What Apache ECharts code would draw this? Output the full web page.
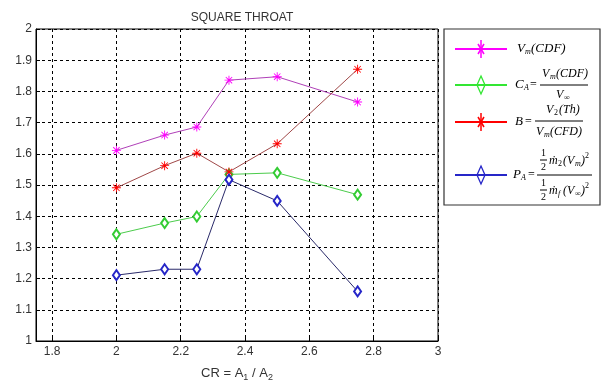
<!DOCTYPE html>
<html>
<head>
<meta charset="utf-8">
<script src="https://cdn.jsdelivr.net/npm/echarts@6/dist/echarts.min.js"></script>
<style>
  html, body { margin: 0; padding: 0; background: #fff; }
  #main { width: 603px; height: 387px; }
</style>
</head>
<body>
<div id="main"></div>
<script>
// data
var cr = [2, 2.15, 2.25, 2.35, 2.5, 2.75];
var vmCdf = [1.611, 1.660, 1.686, 1.836, 1.847, 1.766];
var caRatio = [1.342, 1.378, 1.399, 1.534, 1.539, 1.469];
var bRatio = [1.491, 1.562, 1.602, 1.542, 1.632, 1.871];
var paRatio = [1.211, 1.230, 1.230, 1.517, 1.449, 1.159];
var xTicks = [1.8, 2, 2.2, 2.4, 2.6, 2.8, 3];

var star = 'path://M9 0h2v20h-2z M0 9h20v2h-20z M2.2 3.6L3.6 2.2L17.8 16.4L16.4 17.8z M16.4 2.2L17.8 3.6L3.6 17.8L2.2 16.4z';
var serif = '"Liberation Serif", "DejaVu Serif", serif';
var sans = '"Liberation Sans", Arial, sans-serif';

function pairs(ys) {
  return cr.map(function (x, i) { return [x, ys[i]]; });
}

function mkSeries(name, ys, lineColor, markColor, symbol, size) {
  return {
    name: name,
    type: 'line',
    data: pairs(ys),
    symbol: symbol,
    symbolSize: size,
    lineStyle: { color: lineColor, width: 1 },
    itemStyle: { color: markColor, borderWidth: 1 },
    emphasis: { disabled: true },
    animation: false
  };
}

// little helpers for the legend formulas
function t(x, y, s, size, italic) {
  return {
    type: 'text', x: x, y: y, silent: true,
    style: {
      text: s, fill: '#000', fontSize: size,
      fontFamily: serif, fontStyle: italic === false ? 'normal' : 'italic',
      textAlign: 'left', textVerticalAlign: 'middle'
    }
  };
}
function seg(x1, y1, x2, y2, color, w) {
  return { type: 'line', silent: true, shape: { x1: x1, y1: y1, x2: x2, y2: y2 }, style: { stroke: color, lineWidth: w } };
}
function bar(x1, x2, y) {
  return seg(x1, y, x2, y, '#000', 1);
}
function key(y, color, isStar) {
  var cx = 481;
  var els = [seg(455, y, 507, y, color, 2)];
  if (isStar) {
    els.push(seg(cx, y - 9, cx, y + 9, color, 1.5));
    els.push(seg(cx - 4, y, cx + 4, y, color, 1.5));
    els.push(seg(cx - 3, y - 5, cx + 3, y + 5, color, 1.5));
    els.push(seg(cx - 3, y + 5, cx + 3, y - 5, color, 1.5));
  } else {
    els.push({ type: 'polygon', silent: true,
      shape: { points: [[cx, y - 9], [cx + 4, y], [cx, y + 9], [cx - 4, y]] },
      style: { fill: 'none', stroke: color, lineWidth: 1.3 } });
  }
  return els;
}

var legendEls = [
  { type: 'rect', silent: true, shape: { x: 444, y: 29, width: 156, height: 176 }, style: { fill: '#fff', stroke: '#333', lineWidth: 1.2 } }
];
legendEls = legendEls
  .concat(key(49, '#ff00ff', true))
  .concat(key(85, '#33e633', false))
  .concat(key(122, '#ff0000', true))
  .concat(key(175, '#2626c8', false))
  .concat([
    // V_m(CDF)
    t(517, 49, 'V', 13), t(525, 52, 'm', 8), t(531, 49, '(CDF)', 13),
    // C_A = V_m(CDF) / V_inf
    t(515, 85, 'C', 13), t(524, 88, 'A', 8), t(530, 85, '=', 12, false),
    t(542, 74, 'V', 12), t(550, 77, 'm', 8), t(556, 74, '(CDF)', 12),
    bar(540, 588, 85),
    t(556, 95, 'V', 12), t(564, 98, '\u221e', 8, false),
    // B = V_2(Th) / V_m(CFD)
    t(515, 122, 'B', 13), t(525, 122, '=', 12, false),
    t(546, 110, 'V', 12), t(554, 113, '2', 8, false), t(559, 110, '(Th)', 12),
    bar(535, 583, 121),
    t(536, 132, 'V', 12), t(544, 135, 'm', 8), t(550, 132, '(CFD)', 12),
    // P_A = (1/2 m2 (Vm)^2) / (1/2 mf (Vinf)^2)
    t(513, 175, 'P', 13), t(521, 178, 'A', 8), t(528, 175, '=', 12, false),
    t(541, 153, '1', 10, false), bar(540, 547, 160), t(541, 167, '2', 10, false),
    t(549, 161, '\u1e41', 12), t(558, 164, '2', 8, false), t(563, 161, '(V', 12), t(575, 164, 'm', 8), t(581, 161, ')', 12), t(585, 156, '2', 8, false),
    bar(537, 592, 175),
    t(541, 183, '1', 10, false), bar(540, 547, 190), t(541, 197, '2', 10, false),
    t(549, 191, '\u1e41', 12), t(558, 194, 'f', 8), t(563, 191, '(V', 12), t(575, 194, '\u221e', 8, false), t(581, 191, ')', 12), t(585, 186, '2', 8, false)
  ]);

var chart = echarts.init(document.getElementById('main'), null, { renderer: 'canvas' });
chart.setOption({
  backgroundColor: '#fff',
  animation: false,
  title: {
    text: 'SQUARE THROAT',
    left: 237, top: 7, textAlign: 'center',
    textStyle: { fontFamily: sans, fontSize: 12, fontWeight: 'normal', color: '#333' }
  },
  grid: {
    left: 36, right: 165, top: 29, bottom: 40,
    show: true, borderColor: '#000', borderWidth: 1, backgroundColor: '#fff'
  },
  xAxis: {
    type: 'value', min: 1.75, max: 3,
    axisLine: { show: true, onZero: false, lineStyle: { color: '#000' } },
    axisTick: { show: true, inside: true, length: 4, customValues: xTicks, lineStyle: { color: '#000' } },
    axisLabel: { customValues: xTicks, margin: 5, fontFamily: sans, fontSize: 12, color: '#333' },
    splitLine: { show: true, lineStyle: { color: '#000', type: [3, 3], width: 1 } },
    name: '{a|CR = A}{s|1}{a| / A}{s|2}',
    nameLocation: 'middle', nameGap: 23,
    nameTextStyle: {
      rich: {
        a: { fontFamily: sans, fontSize: 13, color: '#333', lineHeight: 18 },
        s: { fontFamily: sans, fontSize: 9, color: '#333', lineHeight: 8, verticalAlign: 'bottom' }
      }
    }
  },
  yAxis: {
    type: 'value', min: 1, max: 2, interval: 0.1,
    axisLine: { show: true, lineStyle: { color: '#000' } },
    axisTick: { show: true, inside: true, length: 4, lineStyle: { color: '#000' } },
    axisLabel: { margin: 4, fontFamily: sans, fontSize: 12, color: '#333' },
    splitLine: { show: true, lineStyle: { color: '#000', type: [3, 3], width: 1 } }
  },
  series: [
    mkSeries('Vm(CDF)', vmCdf, '#b040b8', '#ff00ff', star, 9),
    mkSeries('CA', caRatio, '#4ccc4c', '#33cc33', 'emptyDiamond', [7, 10]),
    mkSeries('B', bRatio, '#a04848', '#ff0000', star, 9),
    mkSeries('PA', paRatio, '#2a2a6a', '#2626c8', 'emptyDiamond', [7, 10])
  ],
  graphic: { elements: legendEls }
});
</script>
</body>
</html>
